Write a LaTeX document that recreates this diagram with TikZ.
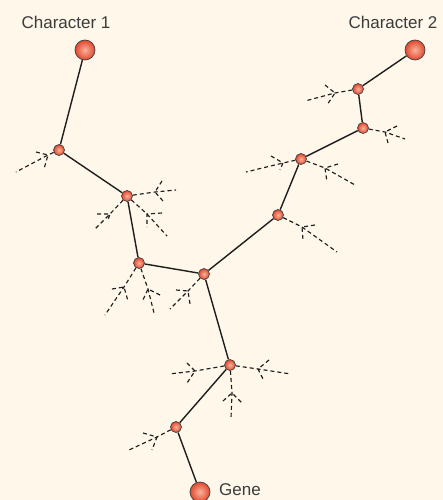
\documentclass[tikz,border=0pt]{standalone}
\usepackage{fontspec}
\setmainfont{Liberation Sans}
\definecolor{paper}{HTML}{FEF7EA}
\definecolor{ink}{HTML}{1E1E1E}
\definecolor{labelgray}{HTML}{3C3C3C}
\definecolor{beadlight}{HTML}{F9B39C}
\definecolor{beaddark}{HTML}{E2472E}
\tikzset{
  bead/.style={circle, draw=ink!85, line width=0.7pt, shading=radial,
    inner color=beadlight, outer color=beaddark, inner sep=0pt},
  smallbead/.style={bead, minimum size=11pt},
  bigbead/.style={bead, minimum size=20pt},
  link/.style={draw=ink, line width=1.4pt},
  twigline/.style={draw=ink, line width=1.15pt, dash pattern=on 4pt off 3pt},
  tag/.style={text=labelgray, font=\fontsize{17}{19}\selectfont, inner sep=0pt}
}
% a dashed side path: stem from a bead to a fork, then a long tail and two short prongs
\newcommand\twig[6]{%
  \coordinate (#1-f) at (#3);
  \coordinate (#1-e) at (#4);
  \coordinate (#1-a) at (#5);
  \coordinate (#1-b) at (#6);
  \draw[twigline] (#2) -- (#1-f) -- (#1-e);
  \draw[twigline] (#1-a) -- (#1-f) -- (#1-b);
}
\begin{document}
\begin{tikzpicture}[x=1pt, y=-1pt]
  \fill[paper] (0,0) rectangle (443,500);
  \useasboundingbox (0,0) rectangle (443,500);

  % end beads
  \node[bigbead] (c1) at (85,50) {};
  \node[bigbead] (c2) at (415,50) {};
  \node[bigbead] (gene) at (200,492) {};

  % inner beads
  \node[smallbead] (n1) at (59,150) {};
  \node[smallbead] (n2) at (127,196) {};
  \node[smallbead] (n3) at (139,263) {};
  \node[smallbead] (n4) at (204,274) {};
  \node[smallbead] (n5) at (278,215) {};
  \node[smallbead] (n6) at (301,159) {};
  \node[smallbead] (n7) at (363,128) {};
  \node[smallbead] (n8) at (358,89) {};
  \node[smallbead] (n9) at (230,365) {};
  \node[smallbead] (n10) at (176,427) {};

  % labels
  \node[tag] (l1) at (66,22) {Character 1};
  \node[tag] (l2) at (393,22) {Character 2};
  \node[tag, anchor=west] (l3) at (219,490) {Gene};

  % solid path between the beads
  \draw[link] (c1) -- (n1) -- (n2) -- (n3) -- (n4) -- (n5) -- (n6) -- (n7) -- (n8) -- (c2);
  \draw[link] (n4) -- (n9) -- (n10) -- (gene);

  % dashed side paths
  \twig{t1}{n1}{48,155}{16,172}{36,152}{44,169}
  \twig{t2}{n2}{155,192}{176,190}{162,181}{163,201}
  \twig{t3}{n2}{147,214}{167,236}{162,213}{147,227}
  \twig{t4}{n2}{110,214}{95,229}{97,214}{108,220}
  \twig{t5}{n3}{124,287}{105,315}{112,289}{128,301}
  \twig{t6}{n3}{148,289}{154,313}{160,295}{142,302}
  \twig{t7}{n4}{188,291}{170,309}{176,290}{190,304}
  \twig{t8}{n9}{195,371}{169,374}{187,363}{187,383}
  \twig{t9}{n9}{258,369}{291,374}{269,360}{263,379}
  \twig{t10}{n9}{232,393}{231,418}{223,401}{242,403}
  \twig{t11}{n10}{157,437}{129,450}{143,433}{152,450}
  \twig{t12}{n5}{302,227}{337,252}{315,225}{303,240}
  \twig{t13}{n6}{283,163}{246,172}{271,156}{280,170}
  \twig{t14}{n6}{325,168}{355,185}{338,164}{327,182}
  \twig{t15}{n8}{335,93}{305,101}{325,85}{327,105}
  \twig{t16}{n7}{385,132}{405,139}{397,126}{388,143}
\end{tikzpicture}
\end{document}
